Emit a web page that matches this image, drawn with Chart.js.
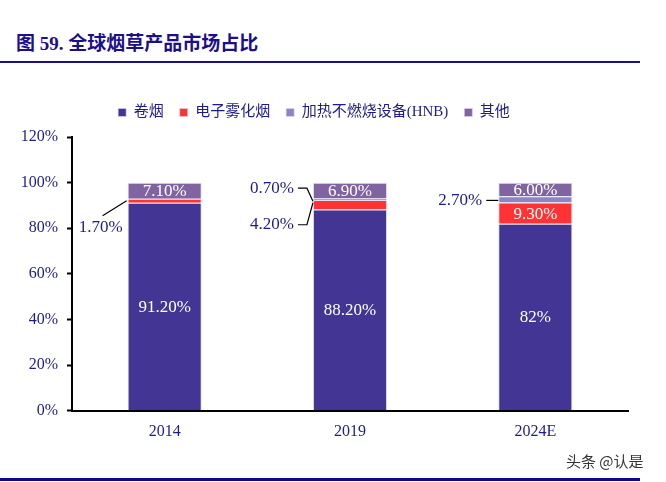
<!DOCTYPE html>
<html lang="zh">
<head>
<meta charset="UTF-8">
<title>全球烟草产品市场占比</title>
<style>
    body { margin: 0; width: 666px; height: 482px; background: #fff; position: relative; overflow: hidden; }
    .title {
        position: absolute; left: 16px; top: 28px;
        font-family: "Liberation Serif", "Noto Sans CJK SC", serif;
        font-weight: bold; font-size: 19px; color: #1b0f8a;
    }
    .rule-top { position: absolute; left: 0; top: 61px; width: 640px; height: 2px; background: #1b0f8a; }
    .rule-bottom { position: absolute; left: 0; top: 478px; width: 640px; height: 3px; background: #10088a; }
    .mark {
        position: absolute; left: 566px; top: 450px;
        font-family: "Noto Sans CJK SC", sans-serif; font-size: 15px; color: #333;
    }
    .wrap { position: absolute; left: 0; top: 78px; width: 640px; height: 374px; }
</style>
<script src="https://cdn.jsdelivr.net/npm/chart.js"></script>
</head>
<body>
<div class="title">图 59. 全球烟草产品市场占比</div>
<div class="rule-top"></div>
<div class="wrap"><canvas id="c"></canvas></div>
<div class="mark">头条 @认是</div>
<div class="rule-bottom"></div>

<script>
    // data (percent)
    const years = ['2014', '2019', '2024E'];
    const cigarette = [91.2, 88.2, 82];
    const eCig = [1.7, 4.2, 9.3];
    const hnb = [0, 0.7, 2.7];
    const other = [7.1, 6.9, 6.0];
    const seriesNames = ['卷烟', '电子雾化烟', '加热不燃烧设备(HNB)', '其他'];
    const yTicks = [0, 20, 40, 60, 80, 100, 120];

    const blue = '#1c1c8c';
    const serif = '"Liberation Serif", "Times New Roman", "Noto Sans CJK SC", serif';

    // labels drawn outside the bar: [dataset, index, dx (right edge from bar left), dy from segment middle, leader style]
    const outside = [
        [1, 0, -5, 27, 'diag'],
        [2, 1, -19, -11, 'bracket'],
        [1, 1, -19, 20, 'bracket'],
        [2, 2, -16, 1, 'flat']
    ];
    // the source prints this one without decimals
    const plainLabel = { '0_2': true };

    function fmt(v, key) {
        return plainLabel[key] ? v + '%' : v.toFixed(2) + '%';
    }

    // extra room below the legend
    const legendGap = {
        id: 'legendGap',
        beforeInit(chart) {
            const fit = chart.legend.fit;
            chart.legend.fit = function () {
                fit.call(this);
                this.height += 7;
            };
        }
    };

    const labelPlugin = {
        id: 'labels',
        afterDatasetsDraw(chart) {
            const ctx = chart.ctx;
            ctx.save();
            ctx.font = '17px ' + serif;
            ctx.textBaseline = 'middle';
            const isOut = {};
            outside.forEach(o => { isOut[o[0] + '_' + o[1]] = o; });
            chart.data.datasets.forEach((ds, di) => {
                const meta = chart.getDatasetMeta(di);
                meta.data.forEach((bar, i) => {
                    const v = ds.data[i];
                    if (!v) return;
                    const key = di + '_' + i;
                    const mid = (bar.y + bar.base) / 2;
                    const left = bar.x - bar.width / 2;
                    const o = isOut[key];
                    if (o) {
                        const tx = left + o[2];
                        const ty = mid + o[3];
                        ctx.fillStyle = blue;
                        ctx.textAlign = 'right';
                        ctx.fillText(fmt(v, key), tx, ty);
                        ctx.strokeStyle = '#000';
                        ctx.lineWidth = 1.2;
                        ctx.beginPath();
                        if (o[4] === 'diag') {
                            ctx.moveTo(tx - 20, ty - 12);
                            ctx.lineTo(left - 1, mid);
                        } else if (o[4] === 'bracket') {
                            ctx.moveTo(tx + 4, ty);
                            ctx.lineTo(left - 6, ty);
                            ctx.lineTo(left, mid + (o[3] < 0 ? 2 : -2));
                        } else {
                            ctx.moveTo(tx + 4, ty);
                            ctx.lineTo(left, ty);
                        }
                        ctx.stroke();
                    } else {
                        ctx.fillStyle = '#fff';
                        ctx.textAlign = 'center';
                        ctx.fillText(fmt(v, key), bar.x, mid + 1);
                    }
                });
            });
            ctx.restore();
        }
    };

    const colors = ['#433593', '#ff3333', '#8c85c4', '#8064a2'];
    const values = [cigarette, eCig, hnb, other];

    new Chart(document.getElementById('c'), {
        type: 'bar',
        data: {
            labels: years,
            datasets: values.map((d, k) => ({
                label: seriesNames[k],
                data: d,
                backgroundColor: colors[k],
                borderColor: 'rgba(220,215,240,0.8)',
                borderWidth: { top: 1, left: 1, right: 1, bottom: 0 },
                barPercentage: 0.8,
                categoryPercentage: 0.5
            }))
        },
        options: {
            responsive: true,
            maintainAspectRatio: false,
            animation: false,
            layout: { padding: { left: 0, right: 12, top: 11, bottom: 0 } },
            plugins: {
                tooltip: { enabled: false },
                legend: {
                    position: 'top',
                    labels: {
                        boxWidth: 8, boxHeight: 8, padding: 16,
                        color: blue,
                        font: { family: serif, size: 15 }
                    }
                }
            },
            scales: {
                x: {
                    stacked: true,
                    grid: { display: false, drawTicks: false },
                    border: { color: '#000', width: 2 },
                    ticks: { color: blue, font: { family: serif, size: 16 }, padding: 11 }
                },
                y: {
                    stacked: true,
                    min: 0, max: 120,
                    afterFit(s) { s.width = 72; },
                    afterBuildTicks(s) { s.ticks = yTicks.map(v => ({ value: v })); },
                    grid: { display: true, drawOnChartArea: false, drawTicks: true, tickLength: 5, tickColor: '#000', tickWidth: 2 },
                    border: { color: '#000', width: 2 },
                    ticks: {
                        color: blue, font: { family: serif, size: 16 }, padding: 9,
                        callback: v => v + '%'
                    }
                }
            }
        },
        plugins: [legendGap, labelPlugin]
    });
</script>
</body>
</html>
